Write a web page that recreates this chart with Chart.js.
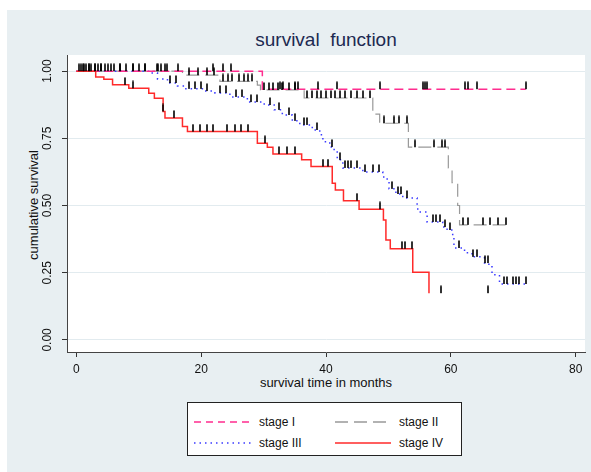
<!DOCTYPE html>
<html>
<head>
<meta charset="utf-8">
<script src="https://cdn.jsdelivr.net/npm/chart.js@4/dist/chart.umd.min.js"></script>
<style>
  html, body { margin: 0; padding: 0; background: #fff; }
  #wrap { position: relative; width: 591px; height: 472px; overflow: hidden; font-family: "Liberation Sans", Arial, sans-serif; }
  #panel { position: absolute; left: 7px; top: 10px; right: 0; bottom: 0; background: #e8eff2; }
  #plotbg { position: absolute; left: 67px; top: 55px; width: 518px; height: 297px; background: #fff; }
  canvas { position: absolute; left: 0; top: 0; }
  .title { position: absolute; left: 67px; width: 518px; top: 29px; text-align: center; font-size: 19px; color: #1c2951; }
  .xtitle { position: absolute; left: 67px; width: 518px; top: 375px; text-align: center; font-size: 13px; color: #111; }
  .ytitle { position: absolute; left: 33px; top: 205px; transform: translate(-50%, -50%) rotate(-90deg); white-space: nowrap; font-size: 13px; color: #111; }
  #legend { position: absolute; left: 187px; top: 402px; width: 273px; height: 52px; border: 1px solid #222; background: #fff; }
  .item { position: absolute; font-size: 12px; color: #111; line-height: 14px; }
  .item svg { position: absolute; left: 0; top: 5px; }
  .item span { position: absolute; white-space: nowrap; }
</style>
</head>
<body>
<div id="wrap">
  <div id="panel"></div>
  <div id="plotbg"></div>
  <div class="title">survival&nbsp; function</div>
  <div class="xtitle">survival time in months</div>
  <div class="ytitle">cumulative survival</div>
  <canvas id="km" width="591" height="472"></canvas>
  <div id="legend">
    <div class="item" style="left:6px;top:12px;">
      <svg width="58" height="4"><line x1="0" y1="2" x2="58" y2="2" stroke="#ff2d8f" stroke-width="1.5" stroke-dasharray="7,5"/></svg>
      <span style="left:65px;top:0">stage I</span>
    </div>
    <div class="item" style="left:147px;top:12px;">
      <svg width="56" height="4"><line x1="0" y1="2" x2="56" y2="2" stroke="#999" stroke-width="1.5" stroke-dasharray="13,6"/></svg>
      <span style="left:64px;top:0">stage II</span>
    </div>
    <div class="item" style="left:6px;top:33px;">
      <svg width="58" height="4"><line x1="0" y1="2" x2="58" y2="2" stroke="#3a3aff" stroke-width="1.5" stroke-dasharray="1.5,4"/></svg>
      <span style="left:65px;top:0">stage III</span>
    </div>
    <div class="item" style="left:147px;top:33px;">
      <svg width="56" height="4"><line x1="0" y1="2" x2="56" y2="2" stroke="#ff2a2a" stroke-width="1.5"/></svg>
      <span style="left:64px;top:0">stage IV</span>
    </div>
  </div>
</div>
<script>
// step points: survival drops to surv[i] at times[i]
const stage1Times = [0, 29.8, 72];
const stage1Surv = [1, 0.933, 0.933];
const stage2Times = [0, 17, 23, 29, 29.5, 36.5, 47.5, 48.6, 53.2, 59.6, 60.2, 61.1, 61.4, 69];
const stage2Surv = [1, 0.985, 0.962, 0.948, 0.93, 0.9, 0.84, 0.806, 0.717, 0.64, 0.585, 0.5, 0.428, 0.428];
const stage3Times = [0, 11.8, 13, 14.6, 16.2, 17.4, 20.6, 22.2, 24.6, 27.4, 30.1, 31.7, 33, 34.6, 35.8, 37.8, 39, 39.5, 40.6, 41.3, 41.8, 42.7, 45.9, 49.1, 49.8, 50.1, 51.2, 52.3, 54.6, 54.7, 56.2, 58.7, 59.4, 60.3, 60.5, 62.2, 63.4, 65.4, 66.1, 66.6, 67.8, 72.2];
const stage3Surv = [1, 0.993, 0.971, 0.956, 0.945, 0.934, 0.926, 0.919, 0.904, 0.885, 0.874, 0.856, 0.837, 0.815, 0.8, 0.781, 0.763, 0.737, 0.718, 0.699, 0.67, 0.64, 0.625, 0.606, 0.588, 0.562, 0.543, 0.528, 0.502, 0.476, 0.439, 0.42, 0.409, 0.387, 0.342, 0.324, 0.309, 0.286, 0.272, 0.242, 0.208, 0.208];
const stage4Times = [0, 3.1, 4.4, 5.8, 8.4, 11.6, 12.5, 13.9, 14.2, 17, 17.8, 29, 30.6, 31.5, 36.1, 37.6, 41, 41.5, 42.8, 45.3, 49.2, 49.6, 50.3, 53.9, 56.5];
const stage4Surv = [1, 0.978, 0.97, 0.949, 0.936, 0.918, 0.899, 0.85, 0.826, 0.794, 0.775, 0.732, 0.717, 0.692, 0.67, 0.645, 0.583, 0.558, 0.518, 0.486, 0.446, 0.372, 0.339, 0.252, 0.174];

// censored times (tick marks)
const stage1Censor = [0.8, 1.5, 2.3, 3.0, 3.5, 4.6, 13.1, 13.6, 14.2, 16.3, 21.9, 23.5, 24.8, 32.6, 33.1, 35, 35.5, 38.7, 41.8, 48.6, 55.5, 55.8, 56.2, 62.2, 62.7, 64.2, 72];
const stage2Censor = [1, 2, 4, 5.5, 7, 9, 11, 13, 14.5, 18, 19.5, 21, 22, 23.5, 24.3, 25, 26, 26.8, 27.5, 28.2, 30, 30.8, 31.5, 32.3, 33, 34, 35, 37, 37.8, 38.5, 39.2, 40, 40.8, 41.5, 42.3, 43, 44, 45, 46, 47, 49.3, 50.9, 51.7, 53, 54.2, 57.3, 58.6, 59, 62, 62.7, 65.1, 66.2, 67.5, 68.8];
const stage3Censor = [0.5, 1.2, 2, 3, 4, 5, 6, 7, 8, 9, 10, 11, 15, 16, 18, 19, 20, 21, 23, 24, 25.5, 26.5, 28, 29, 31, 32.5, 34, 35, 36.5, 37, 38.5, 41, 42.2, 43, 43.5, 44, 45, 46.3, 47.5, 48.5, 50.5, 51.5, 52, 53, 57.1, 57.6, 58.2, 59, 59.8, 61.3, 63.5, 64.2, 65.5, 66, 68.5, 69, 70, 70.5, 71, 72];
const stage4Censor = [7.8, 9.1, 13.9, 15.6, 18.7, 19.8, 20.9, 21.9, 24.2, 25.4, 26.4, 27.5, 30.2, 32.5, 33.8, 35, 39.5, 40.3, 44.9, 48.6, 52.2, 52.6, 53.8, 58.5, 65.9];

const xTicks = [0, 20, 40, 60, 80];
const xTickLabels = ['0', '20', '40', '60', '80'];
const yTicks = [0, 0.25, 0.5, 0.75, 1];
const yTickLabels = ['0.00', '0.25', '0.50', '0.75', '1.00'];

function points(times, surv) {
    return times.map((t, i) => ({ x: t, y: surv[i] }));
}
function levelAt(times, surv, t) {
    let s = surv[0];
    for (let i = 0; i < times.length; i++) {
        if (times[i] <= t) s = surv[i];
    }
    return s;
}
function ticksFor(cens, times, surv) {
    return cens.map(t => ({ x: t, y: levelAt(times, surv, t) }));
}

// censor mark: short vertical bar sitting on top of the curve
const mark = document.createElement('canvas');
mark.width = 2;
mark.height = 16;
const mctx = mark.getContext('2d');
mctx.fillStyle = '#000';
mctx.fillRect(0.2, 0.5, 1.6, 7.5);

const tickStyle = {
    type: 'scatter',
    pointStyle: mark,
    pointRadius: 3,
    showLine: false
};
const lineStyle = { type: 'line', stepped: true, pointRadius: 0, fill: false, tension: 0 };

const axisLabels = {
    id: 'axisLabels',
    afterDraw(chart) {
        const ctx = chart.ctx;
        const x = chart.scales.x;
        const y = chart.scales.y;
        ctx.save();
        ctx.fillStyle = '#111';
        ctx.font = '12px "Liberation Sans", Arial, sans-serif';
        ctx.textAlign = 'center';
        ctx.textBaseline = 'middle';
        yTicks.forEach((v, i) => {
            ctx.save();
            ctx.translate(48, y.getPixelForValue(v));
            ctx.rotate(-Math.PI / 2);
            ctx.fillText(yTickLabels[i], 0, 0);
            ctx.restore();
        });
        xTicks.forEach((v, i) => {
            ctx.fillText(xTickLabels[i], x.getPixelForValue(v), 370);
        });
        ctx.restore();
    }
};

new Chart(document.getElementById('km'), {
    data: {
        datasets: [
            Object.assign({ data: ticksFor(stage4Censor, stage4Times, stage4Surv) }, tickStyle),
            Object.assign({ data: ticksFor(stage3Censor, stage3Times, stage3Surv) }, tickStyle),
            Object.assign({ data: ticksFor(stage2Censor, stage2Times, stage2Surv) }, tickStyle),
            Object.assign({ data: ticksFor(stage1Censor, stage1Times, stage1Surv) }, tickStyle),
            Object.assign({ label: 'stage IV', data: points(stage4Times, stage4Surv), borderColor: '#ff2a2a', borderWidth: 1.5 }, lineStyle),
            Object.assign({ label: 'stage I', data: points(stage1Times, stage1Surv), borderColor: '#ff2d8f', borderWidth: 1.5, borderDash: [9, 5] }, lineStyle),
            Object.assign({ label: 'stage III', data: points(stage3Times, stage3Surv), borderColor: '#3a3aff', borderWidth: 1.5, borderDash: [1.5, 4] }, lineStyle),
            Object.assign({ label: 'stage II', data: points(stage2Times, stage2Surv), borderColor: '#999', borderWidth: 1.2, borderDash: [13, 6] }, lineStyle)
        ]
    },
    options: {
        responsive: false,
        animation: false,
        layout: { padding: { left: 67, top: 55, right: 6, bottom: 120 } },
        plugins: { legend: { display: false }, tooltip: { enabled: false } },
        scales: {
            x: {
                type: 'linear',
                min: -1.5,
                max: 81.5,
                afterFit: s => { s.height = 0; },
                afterBuildTicks: s => { s.ticks = xTicks.map(v => ({ value: v })); },
                grid: { drawOnChartArea: false, drawTicks: true, tickLength: 5, tickColor: '#333' },
                border: { display: true, color: '#444', width: 1 },
                ticks: { display: false }
            },
            y: {
                type: 'linear',
                min: -0.045,
                max: 1.06,
                afterFit: s => { s.width = 0; },
                afterBuildTicks: s => { s.ticks = yTicks.map(v => ({ value: v })); },
                grid: { color: '#e2ebef', lineWidth: 1, drawTicks: true, tickLength: 5, tickColor: '#333' },
                border: { display: true, color: '#444', width: 1 },
                ticks: { display: false }
            }
        }
    },
    plugins: [axisLabels]
});
</script>
</body>
</html>
